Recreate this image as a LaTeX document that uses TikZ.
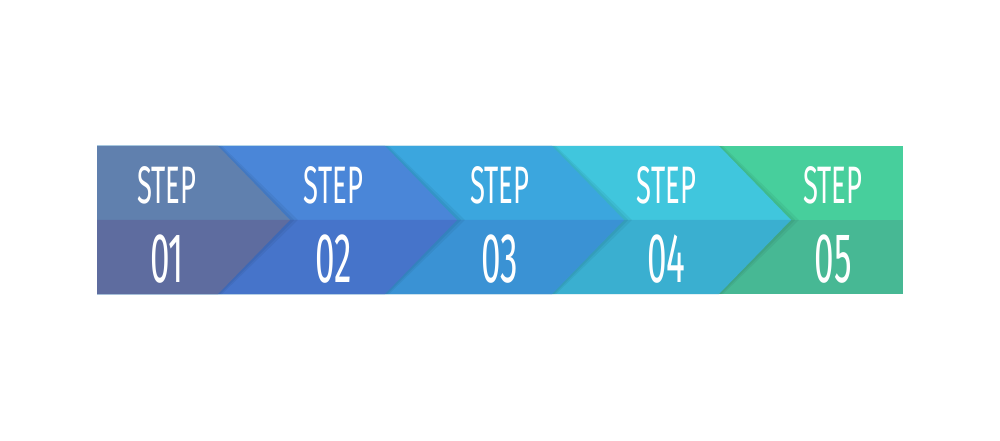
\documentclass[tikz,border=0pt]{standalone}
\usepackage{fontspec}
\usepackage{graphicx}
\setmainfont{Fira Sans}

\definecolor{stepAtop}{HTML}{6080AE}
\definecolor{stepAbot}{HTML}{5E6C9F}
\definecolor{stepBtop}{HTML}{4A86D8}
\definecolor{stepBbot}{HTML}{4674CA}
\definecolor{stepCtop}{HTML}{3BA6DE}
\definecolor{stepCbot}{HTML}{3A92D4}
\definecolor{stepDtop}{HTML}{40C6DD}
\definecolor{stepDbot}{HTML}{3AAFD0}
\definecolor{stepEtop}{HTML}{47CF9C}
\definecolor{stepEbot}{HTML}{47B894}

\tikzset{
  steplabel/.style={text=white, inner sep=0pt, font=\fontsize{30}{30}\selectfont},
  stepnum/.style={text=white, inner sep=0pt, font=\fontsize{40}{40}\selectfont}
}

\begin{document}
\begin{tikzpicture}[x=0.2mm,y=-0.2mm]
  \fill[white] (0,0) rectangle (1000,441);

  % last block, no tip
  \fill[stepEtop] (600,146) rectangle (903,220);
  \fill[stepEbot] (600,220) rectangle (903,294);

  % chevrons, drawn back to front
  \foreach \i/\c in {4/D,3/C,2/B,1/A} {
    \pgfmathsetmacro{\L}{218+(\i-1)*167}
    \pgfmathsetmacro{\T}{\L+72}
    \fill[black,opacity=0.05] (97,146) -- (\L+4,146) -- (\T+8,220) -- (\L+4,294) -- (97,294) -- cycle;
    \fill[black,opacity=0.05] (97,146) -- (\L+2,146) -- (\T+4,220) -- (\L+2,294) -- (97,294) -- cycle;
    \fill[step\c top] (97,146) -- (\L,146) -- (\T,220) -- (97,220) -- cycle;
    \fill[step\c bot] (97,220) -- (\T,220) -- (\L,294) -- (97,294) -- cycle;
  }

  % labels
  \foreach \i/\n in {1/01,2/02,3/03,4/04,5/05} {
    \node[steplabel] (step\i) at ({167+(\i-1)*166.5},185) {\scalebox{0.52}[1]{STEP}};
    \node[stepnum] (num\i) at ({167+(\i-1)*166.5},259) {\scalebox{0.5}[1]{\n}};
  }
\end{tikzpicture}
\end{document}
